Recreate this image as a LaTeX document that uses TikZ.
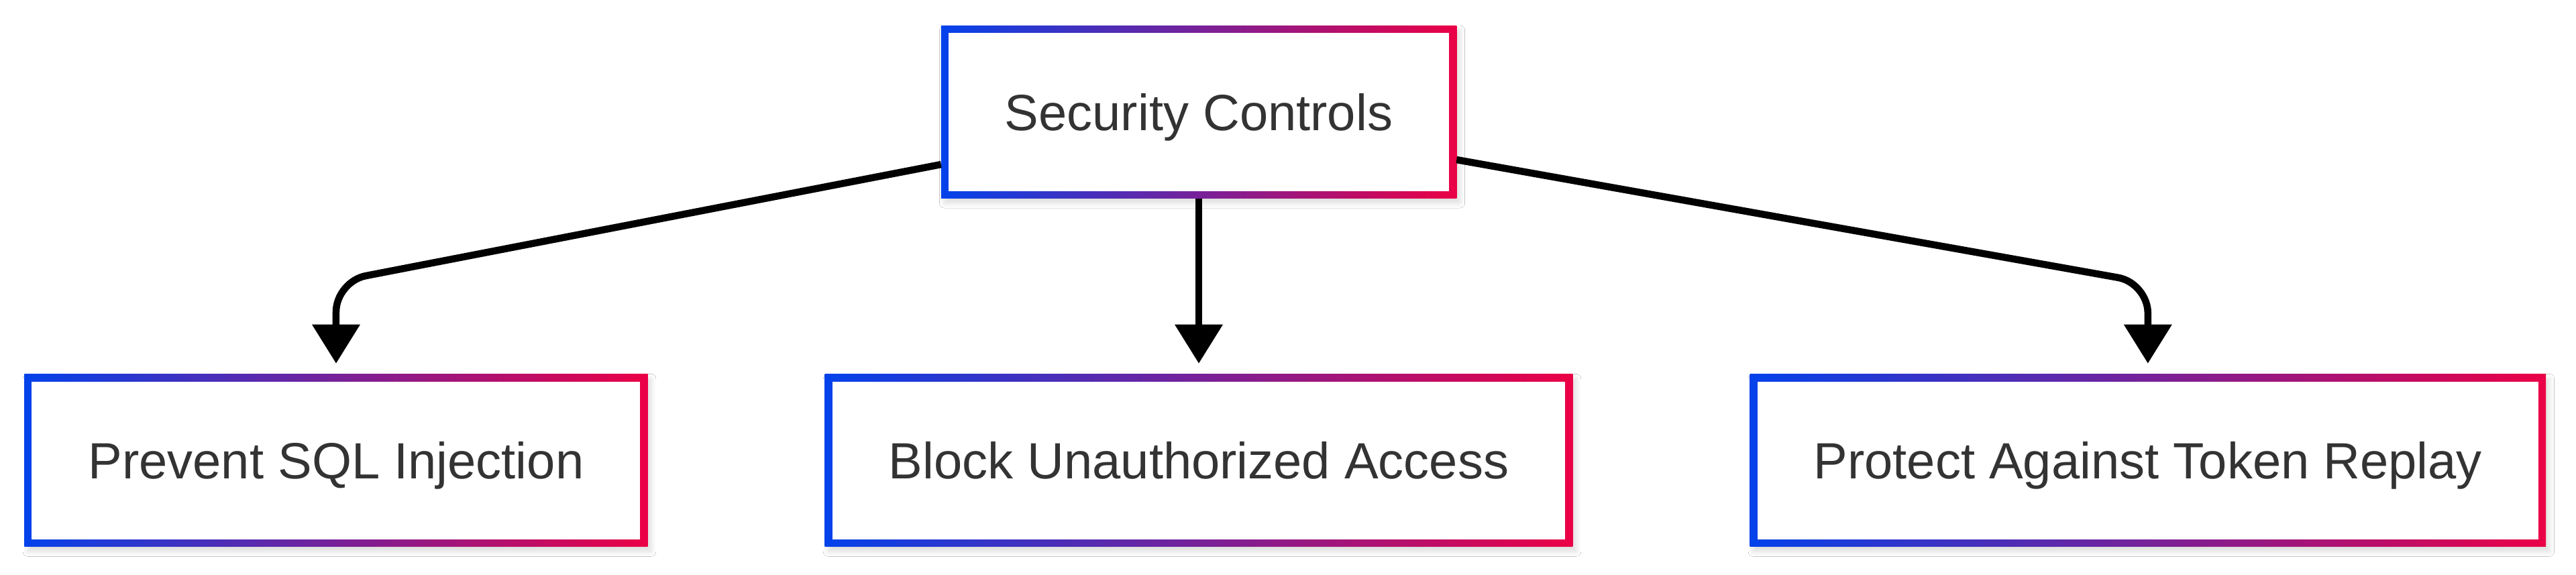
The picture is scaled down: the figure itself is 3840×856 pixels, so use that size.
\documentclass[tikz,border=0pt]{standalone}
\usepackage{fontspec}
\setmainfont{Liberation Sans}
\usetikzlibrary{positioning,arrows.meta,shadows.blur}

\definecolor{secblue}{RGB}{3,66,235}
\definecolor{secred}{RGB}{235,0,70}
\definecolor{sectext}{RGB}{51,51,51}

\begin{document}
\begin{tikzpicture}[
  x=0.01cm, y=-0.01cm,
  node distance=2.62cm and 2.64cm,
  box/.style={left color=secblue, right color=secred, draw=none,
              minimum height=2.57cm, inner xsep=0.95cm, outer sep=0pt,
              text=sectext, font=\fontsize{21.6}{26}\selectfont,
              text height=15.5pt, text depth=0pt,
              blur shadow={shadow xshift=0.05cm, shadow yshift=-0.07cm,
                           shadow blur steps=8, shadow opacity=14},
              path picture={\fill[white]
                ([shift={(0.11cm,0.11cm)}]path picture bounding box.south west)
                rectangle
                ([shift={(-0.11cm,-0.11cm)}]path picture bounding box.north east);}},
  arrow/.style={-{Triangle[length=0.58cm,width=0.69cm]}, line width=0.105cm,
                shorten >=0.16cm}
]
\useasboundingbox[fill=white] (0,0) rectangle (3840,856);
\node[box] (sec) at (1787,167) {Security Controls};
\node[box, below=of sec]   (block) {Block Unauthorized Access};
\node[box, left=of block]  (sql)   {Prevent SQL Injection};
\node[box, right=of block] (token) {Protect Against Token Replay};
\draw[arrow, rounded corners=0.45cm] ([yshift=-0.78cm]sec.west)
  -- ([yshift=1.38cm]sql.north) -- (sql.north);
\draw[arrow] (sec) -- (block);
\draw[arrow, rounded corners=0.45cm] ([yshift=-0.71cm]sec.east)
  -- ([yshift=1.36cm]token.north) -- (token.north);
\end{tikzpicture}
\end{document}
